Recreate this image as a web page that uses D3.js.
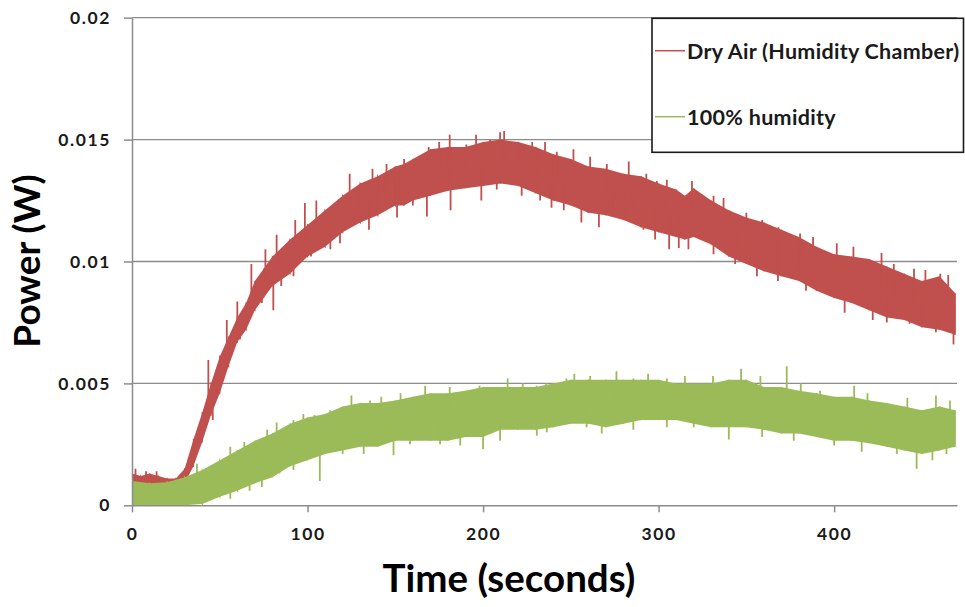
<!DOCTYPE html>
<html>
<head>
<meta charset="utf-8">
<script src="https://cdn.jsdelivr.net/npm/d3@7/dist/d3.min.js"></script>
<style>
  body { margin: 0; background: #fff; }
  svg { display: block; }
  .tick text { font-family: Lato, sans-serif; font-weight: 700; font-size: 17.5px; letter-spacing: 1.6px; fill: #1a1a1a; }
  .axis-title { font-family: Lato, sans-serif; font-weight: 700; font-size: 38.5px; fill: #000; }
  .axis-title.y-title { font-size: 37px; }
  .legend-text { font-family: Lato, sans-serif; font-weight: 700; font-size: 21.5px; letter-spacing: 0.3px; fill: #1a1a1a; }
</style>
</head>
<body>
<div id="chart"></div>
<script>
// values (W); noisy traces kept as low / high envelope + visible spikes
const xTicks = [0, 100, 200, 300, 400];
const yTicks = [0, 0.005, 0.01, 0.015, 0.02];
const yTickLabels = ['0', '0.005', '0.01', '0.015', '0.02'];
const seriesNames = ['Dry Air (Humidity Chamber)', '100% humidity'];

const dryTime = [0, 5, 10, 15, 20, 25, 30, 35, 40, 45, 50, 55, 60, 65, 70, 75, 80, 90, 100, 110, 120, 130, 140, 150, 155,
  160, 170, 180, 190, 200, 210, 220, 230, 240, 250, 260, 270, 280, 290, 300, 310, 315, 320, 330, 340, 350, 360, 370, 380,
  390, 400, 410, 420, 430, 440, 450, 460, 469];
const dryHigh = [0.0013, 0.0012, 0.0013, 0.0012, 0.0011, 0.0011, 0.0015, 0.0027, 0.0038, 0.0050, 0.0061, 0.0069, 0.0077,
  0.0083, 0.0092, 0.0097, 0.0102, 0.0109, 0.0115, 0.0121, 0.0127, 0.0132, 0.0135, 0.0139, 0.0140, 0.0142, 0.0146, 0.0147,
  0.0147, 0.0149, 0.0150, 0.0149, 0.0147, 0.0144, 0.0142, 0.0139, 0.0138, 0.0136, 0.0135, 0.0132, 0.01295, 0.0127, 0.0130,
  0.0125, 0.0121, 0.0118, 0.0116, 0.0113, 0.0110, 0.0106, 0.0103, 0.0102, 0.0101, 0.0098, 0.0095, 0.0092, 0.0094, 0.0087];
const dryLow = [0.0006, 0.0006, 0.0007, 0.0006, 0.0007, 0.0008, 0.0009, 0.0016, 0.0026, 0.0037, 0.0046, 0.0057, 0.0067,
  0.0072, 0.0080, 0.0085, 0.0090, 0.0095, 0.0102, 0.0106, 0.0112, 0.0116, 0.0119, 0.0123, 0.0123, 0.0125, 0.0127, 0.0129,
  0.0130, 0.0131, 0.0132, 0.0131, 0.0128, 0.0125, 0.0123, 0.0120, 0.0119, 0.0117, 0.0114, 0.0112, 0.0110, 0.0109, 0.0110,
  0.0107, 0.0102, 0.0099, 0.0096, 0.0094, 0.0092, 0.0088, 0.0085, 0.0083, 0.0080, 0.0077, 0.0076, 0.0073, 0.0072, 0.0070];
const drySpikes = [
  [2, 0.0015], [8, 0.0014], [14, 0.0014], [43.5, 0.00596], [54, 0.0076], [60, 0.00836], [68, 0.0099], [76, 0.0105],
  [82.4, 0.0111], [93, 0.0117], [98.5, 0.0124], [105, 0.0125], [124, 0.0136], [137, 0.0138], [145, 0.0140], [155, 0.0142],
  [169, 0.0147], [175, 0.0149], [181, 0.0152], [190.5, 0.0148], [196, 0.0152], [204, 0.0150], [209.7, 0.0153],
  [212, 0.01535], [220, 0.0149], [228, 0.0149], [235.3, 0.0149], [242, 0.0145], [251.5, 0.0146], [261, 0.0143],
  [270.5, 0.0140], [283, 0.0141], [293, 0.0136], [299, 0.0133], [304.7, 0.01335], [319, 0.0133], [331.3, 0.0127],
  [337, 0.0126], [350, 0.0120], [359, 0.0117], [368.3, 0.0114], [380.6, 0.01115], [388, 0.0110], [401.5, 0.01075],
  [411, 0.0106], [427, 0.01035], [434, 0.0099], [445.5, 0.0097], [452, 0.00965], [460.5, 0.0095], [465, 0.00945],
  [46, 0.0035], [61.5, 0.0068], [74, 0.0083], [80.5, 0.0080], [85, 0.0090], [92, 0.0094], [102, 0.0102], [113, 0.0105],
  [118.5, 0.01075], [135, 0.0113], [151, 0.0118], [160, 0.0123], [168, 0.01185], [181.5, 0.0121], [199, 0.0125],
  [207.8, 0.01295], [222, 0.0127], [232.5, 0.0125], [239, 0.0122], [246, 0.0121], [256, 0.0116], [266, 0.0114],
  [274, 0.01185], [286, 0.0116], [291.4, 0.0113], [298, 0.0109], [306, 0.0105], [311.5, 0.01055], [317, 0.0105],
  [331.3, 0.0103], [343.6, 0.0099], [356, 0.0094], [368, 0.0092], [384, 0.0088], [395.5, 0.0087], [406, 0.0079],
  [422, 0.0076], [430, 0.0075], [443, 0.00745], [458, 0.0071], [468, 0.0066]];

const wetTime = [0, 10, 20, 30, 40, 50, 60, 70, 80, 90, 100, 110, 120, 130, 140, 150, 160, 170, 180, 190, 200, 210, 220,
  230, 240, 250, 260, 270, 280, 290, 300, 310, 320, 330, 340, 350, 360, 370, 380, 390, 400, 410, 420, 430, 440, 450, 460, 469];
const wetHigh = [0.0010, 0.0009, 0.00095, 0.00115, 0.00145, 0.00185, 0.00225, 0.00265, 0.00295, 0.00335, 0.0036, 0.00375,
  0.00405, 0.0042, 0.0042, 0.0043, 0.00445, 0.0046, 0.0046, 0.0047, 0.00485, 0.00485, 0.00485, 0.00485, 0.0050, 0.00515,
  0.00515, 0.00515, 0.00515, 0.00515, 0.00515, 0.0050, 0.0050, 0.0050, 0.00515, 0.00515, 0.00485, 0.00485, 0.0047, 0.0046,
  0.00445, 0.00445, 0.0043, 0.0042, 0.00405, 0.0039, 0.00405, 0.0039];
const wetLow = [0, 0, 0, 0, 0.00005, 0.00035, 0.0006, 0.0009, 0.00115, 0.0016, 0.00185, 0.0021, 0.00225, 0.0024, 0.0024,
  0.00265, 0.00265, 0.00265, 0.00265, 0.0028, 0.0028, 0.0031, 0.0031, 0.0031, 0.0032, 0.00335, 0.00335, 0.0032, 0.00335,
  0.0035, 0.0035, 0.0035, 0.00335, 0.0032, 0.0032, 0.0032, 0.0031, 0.00295, 0.00295, 0.0028, 0.00265, 0.00265, 0.00255,
  0.0024, 0.00225, 0.0021, 0.00225, 0.0024];
const wetSpikes = [
  [37, 0.0017], [56, 0.0024], [64, 0.0026], [77, 0.0031], [82.4, 0.0034], [92, 0.0035], [97.6, 0.00375], [104, 0.0037],
  [113, 0.0039], [125, 0.0045], [135.6, 0.0043], [142, 0.00445], [153, 0.0046], [167, 0.0049], [181, 0.00485],
  [198, 0.0049], [207.8, 0.00485], [214, 0.0052], [222.6, 0.0050], [230.5, 0.0049], [236, 0.0050], [247.5, 0.0052],
  [252, 0.0054], [261, 0.0053], [276, 0.0055], [285.6, 0.0052], [294, 0.0054], [304.7, 0.0052], [315, 0.0053],
  [331, 0.0053], [347, 0.0056], [358, 0.0053], [373, 0.0057], [381, 0.0050], [392, 0.0047], [411.4, 0.0049],
  [419, 0.0046], [441.7, 0.0044], [458, 0.0045], [466, 0.0043],
  [56, 0.00027], [67, 0.0006], [74, 0.00075], [84, 0.0013], [92, 0.00145], [107, 0.0010], [120, 0.0021], [132, 0.0021],
  [149, 0.00205], [158.4, 0.0025], [175.5, 0.0025], [187, 0.00245], [200, 0.0023], [209.7, 0.00265], [230.6, 0.00285],
  [236.3, 0.0030], [259, 0.0032], [267.6, 0.00295], [285.6, 0.0031], [304.7, 0.0032], [320, 0.0032], [340, 0.0027],
  [359, 0.0028], [377, 0.00265], [400, 0.00245], [415.7, 0.0022], [435.7, 0.0021], [447, 0.0015], [456, 0.00185],
  [464, 0.0021]];

const seriesColors = ['#c0504d', '#9bbb59'];

const width = 965;
const height = 607;
const margin = { top: 17.7, right: 8, bottom: 101.7, left: 132 };

const svg = d3.select('#chart').append('svg').attr('width', width).attr('height', height);

const x = d3.scaleLinear().domain([0, 470]).range([margin.left, width - margin.right]);
const y = d3.scaleLinear().domain([0, 0.02]).range([height - margin.bottom, margin.top]);

// grid
svg.append('g')
  .selectAll('line')
  .data(yTicks.slice(1))
  .join('line')
  .attr('x1', x(0)).attr('x2', x(470))
  .attr('y1', (d) => y(d)).attr('y2', (d) => y(d))
  .attr('stroke', '#8c8c8c')
  .attr('stroke-width', 1.3);

svg.append('clipPath').attr('id', 'plot-clip')
  .append('rect')
  .attr('x', x(0)).attr('y', y(0.02))
  .attr('width', x(470) - x(0)).attr('height', y(0) - y(0.02));

const plot = svg.append('g').attr('clip-path', 'url(#plot-clip)');

const series = [
  { name: seriesNames[0], color: seriesColors[0], time: dryTime, low: dryLow, high: dryHigh, spikes: drySpikes },
  { name: seriesNames[1], color: seriesColors[1], time: wetTime, low: wetLow, high: wetHigh, spikes: wetSpikes }
];

series.forEach((s) => {
  const rows = s.time.map((t, i) => ({ t, low: s.low[i], high: s.high[i] }));
  const mid = d3.scaleLinear().domain(s.time).range(rows.map((r) => (r.low + r.high) / 2));

  plot.append('path')
    .datum(rows)
    .attr('fill', s.color)
    .attr('d', d3.area().x((r) => x(r.t)).y0((r) => y(r.low)).y1((r) => y(r.high)));

  // jagged trace through the envelope readings
  const zig = rows.flatMap((r) => [[r.t, r.low], [r.t, r.high]]);
  plot.append('path')
    .datum(zig)
    .attr('fill', 'none')
    .attr('stroke', s.color)
    .attr('stroke-width', 1.2)
    .attr('d', d3.line().x((p) => x(p[0])).y((p) => y(p[1])));

  plot.append('g')
    .selectAll('line')
    .data(s.spikes)
    .join('line')
    .attr('x1', (p) => x(p[0])).attr('x2', (p) => x(p[0]))
    .attr('y1', (p) => y(mid(p[0]))).attr('y2', (p) => y(p[1]))
    .attr('stroke', s.color)
    .attr('stroke-width', 1.8);
});

// axes
const xAxis = svg.append('g')
  .attr('transform', `translate(0,${y(0)})`)
  .call(d3.axisBottom(x).tickValues(xTicks).tickSize(7).tickSizeOuter(0).tickPadding(15).tickFormat(d3.format('d')));

const yAxis = svg.append('g')
  .attr('transform', `translate(${x(0)},0)`)
  .call(d3.axisLeft(y).tickValues(yTicks).tickSize(8).tickSizeOuter(0).tickPadding(13)
    .tickFormat((d, i) => yTickLabels[i]));

[xAxis, yAxis].forEach((axis) => {
  axis.select('.domain').attr('stroke', '#8c8c8c').attr('stroke-width', 1.5);
  axis.selectAll('.tick line').attr('stroke', '#8c8c8c').attr('stroke-width', 1.5);
});

svg.append('text')
  .attr('class', 'axis-title')
  .attr('x', 509)
  .attr('y', 592)
  .attr('text-anchor', 'middle')
  .text('Time (seconds)');

svg.append('text')
  .attr('class', 'axis-title y-title')
  .attr('transform', 'translate(40,261) rotate(-90)')
  .attr('text-anchor', 'middle')
  .text('Power (W)');

// legend
const legend = svg.append('g');
legend.append('rect')
  .attr('x', 652).attr('y', 18.3)
  .attr('width', 311.5).attr('height', 134)
  .attr('fill', '#fff')
  .attr('stroke', '#1a1a1a')
  .attr('stroke-width', 1.6);

const legendItems = legend.selectAll('g.item')
  .data(series)
  .join('g')
  .attr('class', 'item')
  .attr('transform', (d, i) => `translate(655,${50.7 + i * 66})`);

legendItems.append('line')
  .attr('x1', 0).attr('x2', 30)
  .attr('stroke', (d) => d.color)
  .attr('stroke-width', 1.5);

legendItems.append('text')
  .attr('class', 'legend-text')
  .attr('x', 32)
  .attr('y', 8)
  .text((d) => d.name);
</script>
</body>
</html>
